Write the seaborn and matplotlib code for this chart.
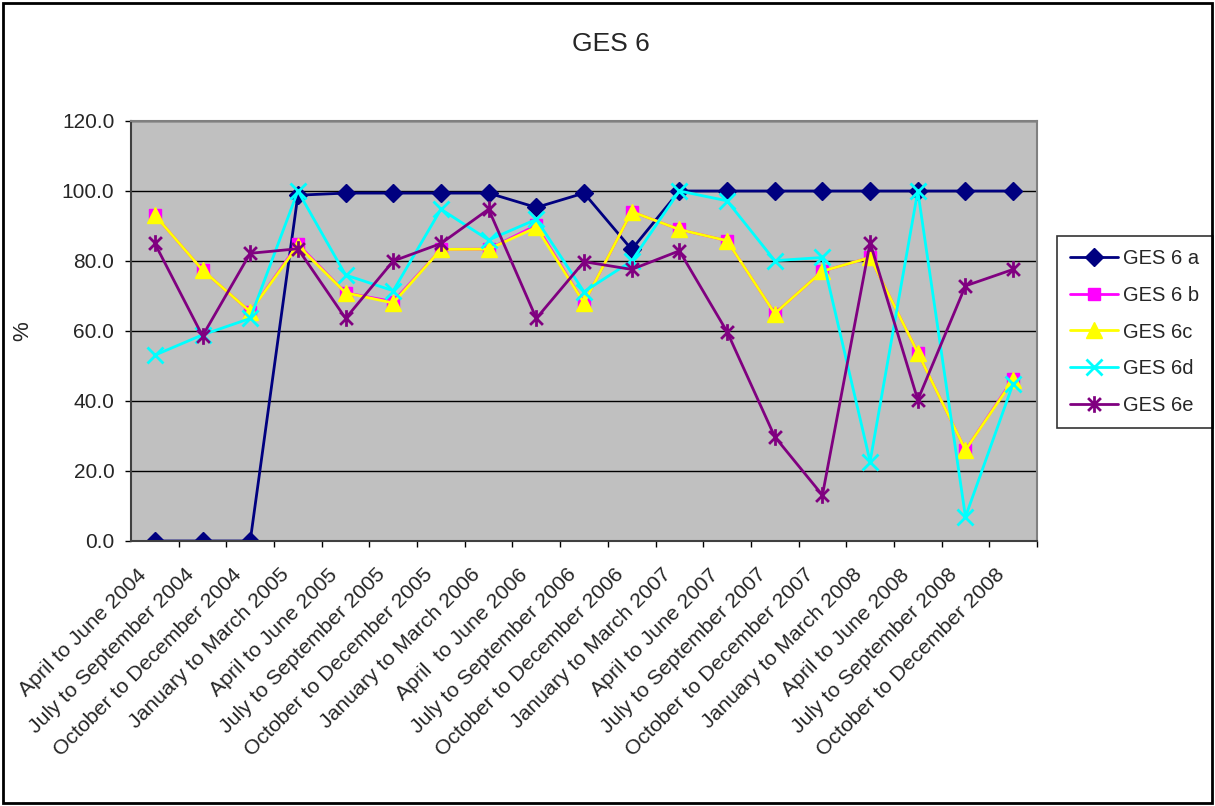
import matplotlib
matplotlib.use("Agg")
import matplotlib.pyplot as plt
import matplotlib.transforms as mtransforms
from matplotlib.path import Path
from matplotlib.patches import Rectangle
import seaborn as sns
import pandas as pd

quarters = [
    "April to June 2004", "July to September 2004", "October to December 2004",
    "January to March 2005", "April to June 2005", "July to September 2005",
    "October to December 2005", "January to March 2006", "April  to June 2006",
    "July to September 2006", "October to December 2006", "January to March 2007",
    "April to June 2007", "July to September 2007", "October to December 2007",
    "January to March 2008", "April to June 2008", "July to September 2008",
    "October to December 2008",
]

ges6_a = [0.0, 0.0, 0.0, 98.8, 99.4, 99.4, 99.4, 99.4, 95.3, 99.4, 83.3,
          100.0, 100.0, 100.0, 100.0, 100.0, 100.0, 100.0, 100.0]
ges6_b = [93.1, 77.4, 65.5, 84.8, 70.9, 68.4, 83.3, 83.4, 90.2, 68.0, 94.1,
          89.0, 85.8, 65.0, 77.1, 81.0, 53.8, 26.0, 46.3]
ges6_c = [93.1, 77.4, 65.5, 84.4, 70.9, 68.0, 83.3, 83.4, 89.6, 68.0, 94.1,
          89.0, 85.8, 65.0, 77.1, 81.0, 53.8, 26.0, 46.0]
ges6_d = [53.1, 58.9, 63.6, 100.0, 76.0, 71.5, 94.8, 86.0, 91.9, 71.2, 80.0,
          100.0, 97.2, 80.1, 81.0, 22.7, 100.0, 6.9, 45.0]
ges6_e = [85.0, 58.6, 82.2, 83.5, 63.6, 80.0, 85.0, 94.8, 63.6, 79.8, 77.6,
          82.9, 59.8, 29.8, 13.1, 85.2, 40.3, 72.9, 77.6]

series_names = ["GES 6 a", "GES 6 b", "GES 6c", "GES 6d", "GES 6e"]
series_values = [ges6_a, ges6_b, ges6_c, ges6_d, ges6_e]

# star marker: an X crossed by a vertical stroke
star = Path([(-1, -1), (1, 1), (-1, 1), (1, -1), (0, -1.3), (0, 1.3)],
            [Path.MOVETO, Path.LINETO, Path.MOVETO, Path.LINETO, Path.MOVETO, Path.LINETO])

styles = [
    dict(color="#000080", marker="D", markersize=9, markeredgecolor="#000080", markeredgewidth=1),
    dict(color="#FF00FF", marker="s", markersize=8, markeredgecolor="#FF00FF", markeredgewidth=1),
    dict(color="#FFFF00", marker="^", markersize=11, markeredgecolor="#FFFF00", markeredgewidth=1),
    dict(color="#00FFFF", marker="x", markersize=11, markeredgecolor="#00FFFF", markeredgewidth=2),
    dict(color="#800080", marker=star, markersize=12, markeredgecolor="#800080", markeredgewidth=2),
]

sns.set_style("white")
plt.rcParams["font.family"] = ["Liberation Sans", "DejaVu Sans"]

fig = plt.figure(figsize=(12.15, 8.06), dpi=100)
ax = fig.add_axes([131 / 1215, 1 - 541 / 806, (1037 - 131) / 1215, (541 - 121) / 806])
ax.set_facecolor("#C0C0C0")

positions = list(range(len(quarters)))
for name, vals, st in zip(series_names, series_values, styles):
    df = pd.DataFrame({"pos": positions, "value": vals})
    sns.lineplot(data=df, x="pos", y="value", ax=ax, label=name,
                 linewidth=2, **st)

ax.set_xlim(-0.5, len(quarters) - 0.5)
ax.set_ylim(0, 120)
ax.set_yticks(range(0, 121, 20))
ax.set_yticklabels([f"{v:.1f}" for v in range(0, 121, 20)], fontsize=15)
ax.yaxis.grid(True, color="black", linewidth=1)
ax.set_axisbelow(True)
ax.tick_params(axis="y", direction="out", length=4.5, width=1, color="black", pad=7.5, left=True)

# category labels at centres, tick marks on category boundaries
ax.set_xticks(positions)
ax.set_xticklabels(quarters, fontsize=15.3, rotation=45, ha="right", va="top",
                   rotation_mode="anchor")
ax.tick_params(axis="x", which="major", length=0, pad=0)
ax.set_xticks([p + 0.5 for p in positions[:-1]] + [len(quarters) - 0.5], minor=True)
ax.tick_params(axis="x", which="minor", direction="out", length=4.5, width=1, color="black", bottom=True)
offset = mtransforms.ScaledTranslation(-18 / 100, -24 / 100, fig.dpi_scale_trans)
for lbl in ax.get_xticklabels():
    lbl.set_transform(lbl.get_transform() + offset)

ax.set_xlabel("")
ax.set_ylabel("")
for side in ["top", "right"]:
    ax.spines[side].set_color("#808080")
    ax.spines[side].set_linewidth(1.5)
for side in ["left", "bottom"]:
    ax.spines[side].set_color("#404040")
    ax.spines[side].set_linewidth(1.5)

fig.text(611 / 1215, 1 - 44 / 806, "GES 6", fontsize=19, ha="center", va="center")
fig.text(23 / 1215, 1 - 331 / 806, "%", fontsize=16, ha="center", va="center", rotation=90)

leg = ax.legend(loc="upper left", bbox_to_anchor=(1057 / 1215, 1 - 236 / 806),
                bbox_transform=fig.transFigure, fontsize=14.5, frameon=True,
                fancybox=False, handlelength=2.4, handletextpad=0.25,
                labelspacing=0.88, borderpad=0.65, borderaxespad=0)
leg.get_frame().set_edgecolor("black")
leg.get_frame().set_linewidth(1.2)

fig.patches.append(Rectangle((3 / 1215, 3 / 806), 1209 / 1215, 800 / 806,
                             transform=fig.transFigure, fill=False,
                             edgecolor="black", linewidth=2))

fig.savefig("out.png", dpi=100)
